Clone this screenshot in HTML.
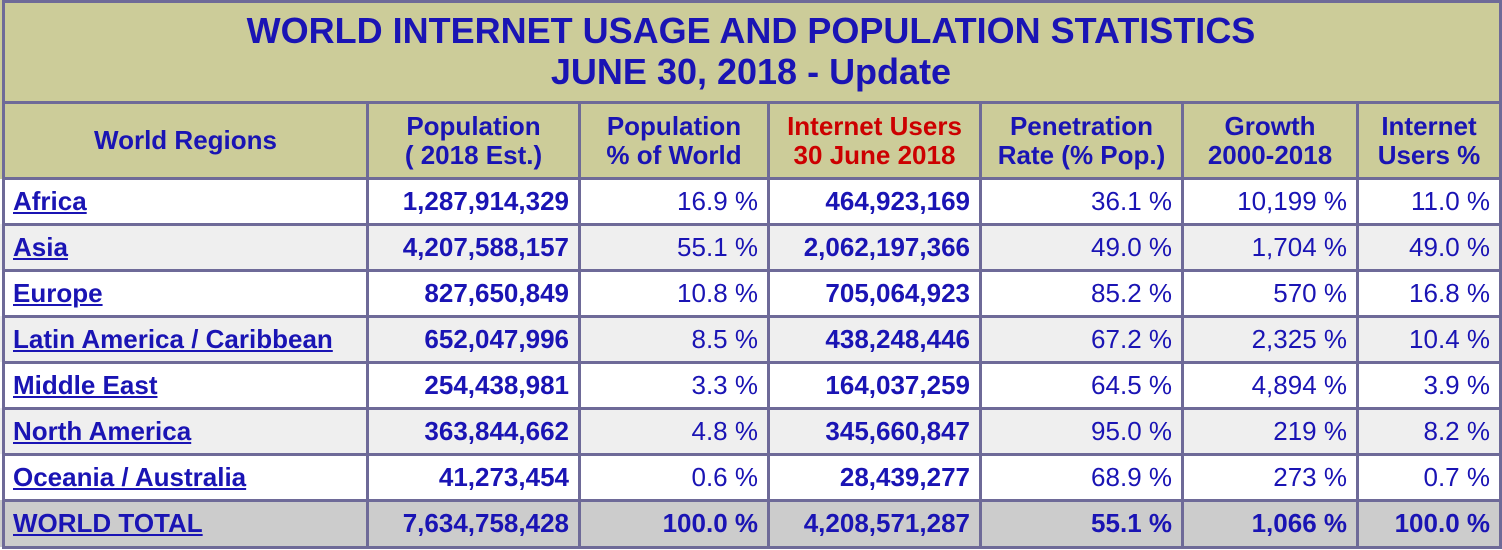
<!DOCTYPE html><html><head><style>
body{margin:0;width:1502px;height:550px;background:#fff;position:relative;overflow:hidden;font-family:"Liberation Sans",Arial,Helvetica,sans-serif;color:#1a14b4}
.c{position:absolute;display:flex;align-items:center;box-sizing:border-box;font-size:26px;white-space:nowrap}
.h{position:absolute;display:flex;align-items:center;justify-content:center;text-align:center;font-weight:bold;font-size:26px;line-height:29px}
.v{position:absolute;background:#6e6a98;width:3px}
.z{position:absolute;background:#6e6a98;height:3px}
.r{justify-content:flex-end;padding-right:9px}
.b{font-weight:bold}
a{color:#1a14b4;font-weight:bold;text-decoration:underline;padding-left:8px}
</style></head><body>
<div style="position:absolute;left:0;top:0;width:1502px;height:179px;background:#cccc99"></div>
<div style="position:absolute;left:0;top:224px;width:1502px;height:46px;background:#efefef"></div>
<div style="position:absolute;left:0;top:316px;width:1502px;height:46px;background:#efefef"></div>
<div style="position:absolute;left:0;top:408px;width:1502px;height:46px;background:#efefef"></div>
<div style="position:absolute;left:0;top:500px;width:1502px;height:47px;background:#cccccc"></div>
<div class="h" style="left:0;top:3px;width:1502px;height:95px;font-size:36px;line-height:41px">WORLD INTERNET USAGE AND POPULATION STATISTICS<br>JUNE 30, 2018 - Update</div>
<div class="z" style="left:2px;top:0;width:1500px"></div>
<div class="z" style="left:2px;top:101px;width:1500px"></div>
<div class="z" style="left:2px;top:177px;width:1500px"></div>
<div class="z" style="left:2px;top:223px;width:1500px"></div>
<div class="z" style="left:2px;top:269px;width:1500px"></div>
<div class="z" style="left:2px;top:315px;width:1500px"></div>
<div class="z" style="left:2px;top:361px;width:1500px"></div>
<div class="z" style="left:2px;top:407px;width:1500px"></div>
<div class="z" style="left:2px;top:453px;width:1500px"></div>
<div class="z" style="left:2px;top:499px;width:1500px"></div>
<div class="z" style="left:2px;top:546px;width:1500px"></div>
<div class="v" style="left:2px;top:0;height:549px"></div>
<div class="v" style="left:1499px;top:0;height:549px"></div>
<div class="v" style="left:366px;top:102px;height:447px"></div>
<div class="v" style="left:578px;top:102px;height:447px"></div>
<div class="v" style="left:767px;top:102px;height:447px"></div>
<div class="v" style="left:979px;top:102px;height:447px"></div>
<div class="v" style="left:1181px;top:102px;height:447px"></div>
<div class="v" style="left:1356px;top:102px;height:447px"></div>
<div class="h" style="left:5px;top:104px;width:361px;height:73px">World Regions</div>
<div class="h" style="left:369px;top:104px;width:209px;height:73px">Population<br>( 2018 Est.)</div>
<div class="h" style="left:581px;top:104px;width:186px;height:73px">Population<br>% of World</div>
<div class="h" style="left:770px;top:104px;width:209px;height:73px;color:#cc0000">Internet Users<br>30 June 2018</div>
<div class="h" style="left:982px;top:104px;width:199px;height:73px">Penetration<br>Rate (% Pop.)</div>
<div class="h" style="left:1184px;top:104px;width:172px;height:73px">Growth<br>2000-2018</div>
<div class="h" style="left:1359px;top:104px;width:140px;height:73px">Internet<br>Users %</div>
<div id="rows"></div>
<script>
var d=[["Africa","1,287,914,329","16.9 %","464,923,169","36.1 %","10,199 %","11.0 %"],
["Asia","4,207,588,157","55.1 %","2,062,197,366","49.0 %","1,704 %","49.0 %"],
["Europe","827,650,849","10.8 %","705,064,923","85.2 %","570 %","16.8 %"],
["Latin America / Caribbean","652,047,996","8.5 %","438,248,446","67.2 %","2,325 %","10.4 %"],
["Middle East","254,438,981","3.3 %","164,037,259","64.5 %","4,894 %","3.9 %"],
["North America","363,844,662","4.8 %","345,660,847","95.0 %","219 %","8.2 %"],
["Oceania / Australia","41,273,454","0.6 %","28,439,277","68.9 %","273 %","0.7 %"],
["WORLD TOTAL","7,634,758,428","100.0 %","4,208,571,287","55.1 %","1,066 %","100.0 %"]];
var xs=[5,369,581,770,982,1184,1359,1502],h="";
d.forEach(function(r,i){var t=180+i*46,H=43;r.forEach(function(v,j){
var l=xs[j],w=xs[j+1]-l-3;var bold=(j==1||j==3||i==7);
if(j==0)h+='<div class="c" style="left:'+l+'px;top:'+t+'px;width:'+w+'px;height:'+H+'px"><a>'+v+'</a></div>';
else h+='<div class="c r'+(bold?' b':'')+'" style="left:'+l+'px;top:'+t+'px;width:'+w+'px;height:'+H+'px">'+v+'</div>';});});
document.getElementById("rows").innerHTML=h;
</script>
</body></html>
